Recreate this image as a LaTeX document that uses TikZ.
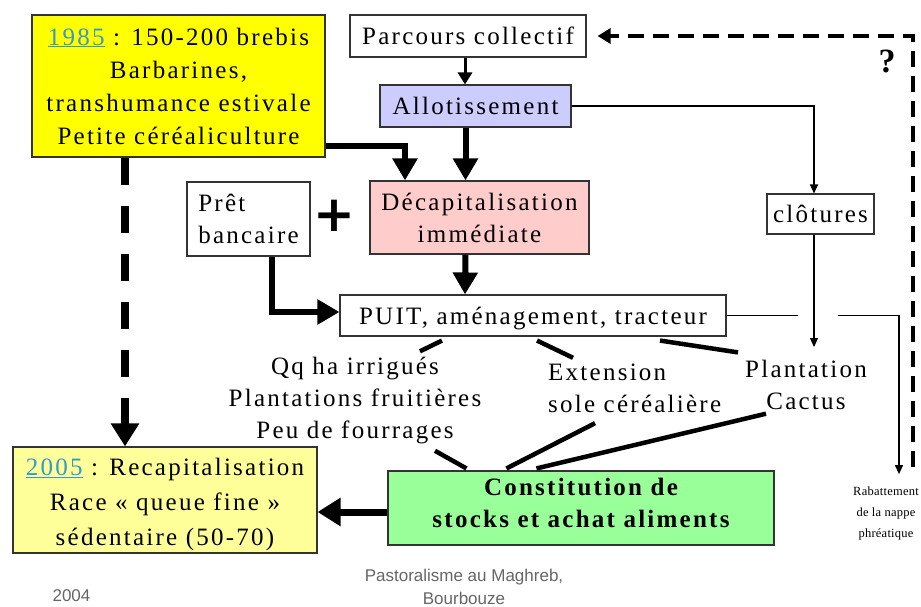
\documentclass[tikz,border=0pt]{standalone}
\usepackage{fontspec}
\setmainfont{Liberation Serif}[LetterSpace=9]
\newfontfamily\piedfont{Liberation Sans}
\newfontfamily\signefont{DejaVu Sans}
\usetikzlibrary{arrows.meta,calc}
\definecolor{jaune}{HTML}{FFFF00}
\definecolor{jaunepale}{HTML}{FFFF99}
\definecolor{lavande}{HTML}{CCCCFF}
\definecolor{rose}{HTML}{FFCCCC}
\definecolor{vert}{HTML}{99FF99}
\definecolor{annee}{HTML}{3399CC}
\definecolor{pied}{HTML}{666666}

\begin{document}
\begin{tikzpicture}[x=1pt, y=-1pt,
  font=\fontsize{25}{32}\selectfont,
  boite/.style={draw=black!80, line width=1.1pt, align=center, inner sep=0pt},
  etiq/.style={align=center, inner sep=2pt},
  grosse/.style={line width=6pt, -{Triangle[width=24pt,length=22pt]}},
  fine/.style={line width=1.2pt, -{Triangle[width=8pt,length=9pt]}},
  lien/.style={line width=4.5pt},
  tirets/.style={line width=4.5pt, dash pattern=on 16pt off 9pt, -{Triangle[width=15pt,length=13pt]}}]
\fill[white] (0,0) rectangle (921,607);
\useasboundingbox (0,0) rectangle (921,607);
% ---------------- nodes (pixel positions)
\node[boite, fill=jaune, minimum width=293pt, minimum height=142pt, font=\fontsize{25}{33}\selectfont] (an85) at (178.5,86)
      {{\color{annee}\underline{1985}} : 150-200 brebis\\Barbarines,\\transhumance estivale\\Petite céréaliculture};
\node[boite, minimum width=236pt, minimum height=42pt] (parc) at (468,36) {Parcours collectif};
\node[boite, fill=lavande, minimum width=191pt, minimum height=42pt] (allot) at (475.5,106) {Allotissement};
\node[boite, fill=rose, minimum width=219pt, minimum height=73pt] (decap) at (479.5,217.5) {Décapitalisation\\immédiate};
\node[boite, align=left, minimum width=123pt, minimum height=74pt] (pret) at (248.5,219) {Prêt\\bancaire};
\node[font=\fontsize{50}{50}\selectfont\signefont\bfseries] (plus) at (334,216) {+};
\node[boite, minimum width=386pt, minimum height=41pt, text depth=0pt] (puit) at (533,315.5) {PUIT, aménagement, tracteur};
\node[boite, minimum width=107pt, minimum height=40pt] (clot) at (820.5,214) {clôtures};
\node[etiq] (qq) at (355,400.5) {Qq ha irrigués\\Plantations fruitières\\Peu de fourrages};
\node[etiq, align=left, anchor=west] (ext) at (546,388) {Extension\\sole céréalière};
\node[etiq] (plant) at (806,385) {Plantation\\Cactus};
\node[boite, fill=vert, minimum width=386pt, minimum height=74pt, text depth=10.4pt, font=\fontsize{25}{32}\selectfont\bfseries] (const) at (581,508)
      {Constitution de\\stocks et achat aliments};
\node[boite, fill=jaunepale, minimum width=304pt, minimum height=106pt, text height=97pt, font=\fontsize{25}{35}\selectfont] (an05) at (165,500)
      {{\color{annee}\underline{2005}} : Recapitalisation\\Race « queue fine »\\sédentaire (50-70)};
\node[etiq, font=\fontsize{12.5}{21}\selectfont\addfontfeatures{LetterSpace=2}] (rab) at (886,513) {Rabattement\\de la nappe\\phréatique};
\node[font=\fontsize{34}{34}\selectfont\bfseries] (quest) at (887,61) {?};
\node[font=\fontsize{17}{23}\selectfont\piedfont, text=pied, align=center] (source) at (464,587) {Pastoralisme au Maghreb,\\Bourbouze};
\node[font=\fontsize{17}{23}\selectfont\piedfont, text=pied] (annee) at (71.5,596) {2004};
% ---------------- thick arrows
\draw[grosse, line width=3pt, -{Triangle[width=14pt,length=12pt]}] ([xshift=-3pt]parc.south) -- ([xshift=-10.5pt]allot.north);
\draw[grosse] ([xshift=-10pt]allot.south) -- ([xshift=-14pt]decap.north);
\draw[grosse] ([yshift=-60pt]an85.east) -| ([xshift=-74.5pt]decap.north);
\draw[grosse] ([xshift=-14pt]decap.south) -- ([xshift=-68pt]puit.north);
\draw[grosse] ([xshift=23.5pt]pret.south) |- ([yshift=3.5pt]puit.west);
\draw[grosse, line width=8.5pt, dash pattern=on 27pt off 21pt, -{Triangle[width=27pt,length=23pt]}]
      ([xshift=-53.5pt]an85.south) -- ([xshift=-40pt]an05.north);
\draw[grosse, line width=7pt, -{Triangle[width=27pt,length=23pt]}] ([yshift=-4pt]const.west) -- ([yshift=-12pt]an05.east);
% ---------------- plain links
\draw[lien] ([xshift=-91pt,yshift=-4pt]puit.south) -- ([xshift=65pt,yshift=3.6pt]qq.north);
\draw[lien] ([xshift=4pt,yshift=-4pt]puit.south) -- ([xshift=27pt,yshift=3.6pt]ext.north west);
\draw[lien] ([xshift=127pt,yshift=-4pt]puit.south) -- ([xshift=-5pt,yshift=5.6pt]plant.north west);
\draw[lien] ([xshift=80pt,yshift=-4.7pt]qq.south) -- ([xshift=79pt,yshift=2pt]const.north west);
\draw[lien] ([xshift=49pt,yshift=-8.6pt]ext.south west) -- ([xshift=119pt,yshift=2pt]const.north west);
\draw[lien] ([xshift=-40pt,yshift=-1.7pt]plant.south) -- ([xshift=149pt,yshift=2pt]const.north west);
% ---------------- thin arrows
\draw[fine] (allot.east) -| ([xshift=-6.5pt]clot.north);
\draw[fine, shorten >=11pt] ([xshift=-6.5pt]clot.south) -- ([xshift=8pt]plant.north);
\draw[fine, -] (puit.east) -- ([xshift=-22.5pt]clot.south |- puit.east);
\draw[fine, shorten >=10pt] ([xshift=17.5pt]clot.south |- puit.east) -| ([xshift=13pt]rab.north);
\draw[tirets, shorten <=17pt, shorten >=11pt] ([xshift=27pt]rab.north) |- (parc.east);
\end{tikzpicture}
\end{document}
